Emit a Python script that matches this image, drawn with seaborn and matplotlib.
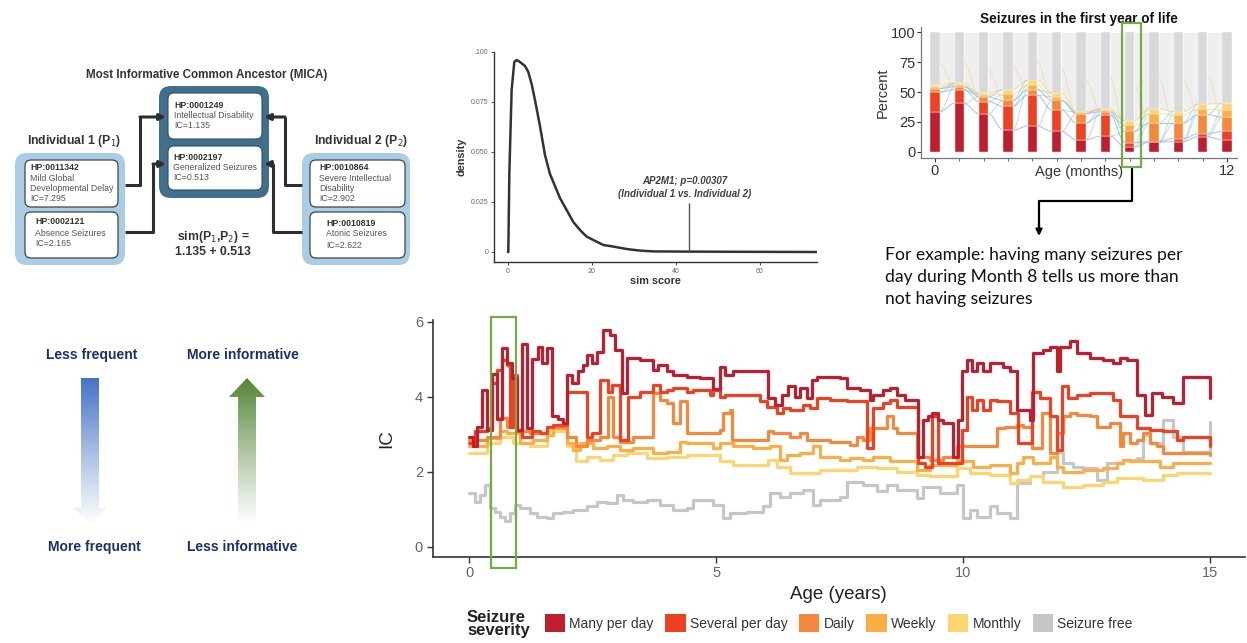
import numpy as np
import pandas as pd
import matplotlib
matplotlib.use("Agg")
import matplotlib.pyplot as plt
import seaborn as sns
from matplotlib.patches import FancyBboxPatch, Rectangle, Polygon, Patch

sns.set_theme(style="white")
plt.rcParams['font.family'] = ['Liberation Sans', 'DejaVu Sans']

# ---------------- data ----------------
severity = ["Many per day", "Several per day", "Daily", "Weekly", "Monthly", "Seizure free"]
sev_colors = ["#BE1E2D", "#EE4124", "#F4883C", "#F9AE48", "#FCD570", "#C6C6C6"]

# density of similarity scores
sim_x = [0.0, 0.08, 0.32, 0.87, 1.5, 2.06, 2.86, 4.05, 4.84, 5.63, 6.43, 7.62, 8.81, 10.0,
         11.19, 12.38, 13.97, 15.56, 17.14, 18.73, 20.32, 22.7, 25.1, 28.25, 31.4, 34.6,
         42.5, 55.0, 73.5]
sim_density = [0.0, 0.0, 0.039, 0.081, 0.095, 0.096, 0.095, 0.093, 0.090, 0.084, 0.076,
               0.063, 0.0485, 0.039, 0.033, 0.027, 0.021, 0.015, 0.011, 0.0077, 0.006,
               0.0035, 0.0027, 0.0015, 0.0007, 0.0003, 0.0002, 0.0001, 0.0]
obs_score = 43.2
obs_height = 0.0247

# first year of life: percent per month (stacked)
months = list(range(13))
pct_many = [33.5, 40.5, 32, 18, 21.5, 17, 10, 13, 4, 8, 8.5, 12.5, 10]
pct_several = [16.5, 11.5, 10, 20, 26, 18, 14, 18, 3.5, 0.5, 2.5, 2.5, 7]
pct_daily = [3, 2.5, 4, 5, 4.5, 8, 8, 2.5, 9.5, 15.5, 13, 16, 12]
pct_weekly = [1.5, 1.5, 1.5, 5, 4, 3, 1, 1.5, 5, 8, 7, 4.5, 6]
pct_monthly = [1.5, 1.5, 1.5, 4, 4, 3, 0.5, 1, 4, 4, 2.5, 4.5, 5.5]

# IC over age (step series)
age_many = [0, 0.08, 0.15, 0.25, 0.35, 0.452, 0.553, 0.655, 0.77, 0.857, 0.958, 1.06, 1.16, 1.26,
            1.397, 1.464, 1.565, 1.667, 1.8, 1.9, 1.97, 2.07, 2.206, 2.31, 2.375, 2.476, 2.578,
            2.713, 2.848, 2.949, 3.084, 3.185, 3.455, 3.725, 3.826, 3.995, 4.13, 4.4, 4.669,
            4.939, 5.074, 5.175, 5.344, 6.053, 6.188, 6.323, 6.457, 6.592, 6.694, 6.829, 6.93,
            7.031, 7.503, 7.638, 7.908, 8.111, 8.178, 8.381, 8.516, 8.65, 8.819, 9.089, 9.19,
            9.292, 9.359, 9.494, 9.595, 9.798, 9.899, 9.966, 10.07, 10.169, 10.27, 10.405, 10.54,
            10.81, 10.945, 11.08, 11.35, 11.417, 11.62, 11.755, 11.89, 11.957, 12.16, 12.294,
            12.565, 12.834, 13.036, 13.171, 13.306, 13.509, 13.678, 13.813, 14.015, 14.251,
            14.453, 15.0]
ic_many = [2.93, 2.67, 3.2, 4.18, 3.1, 4.6, 3.4, 5.3, 4.9, 4.5, 3.1, 5.4, 3.15, 5.0,
           5.33, 4.9, 5.3, 3.47, 3.4, 3.3, 4.58, 4.36, 4.67, 4.84, 5.1, 4.9, 5.2,
           5.78, 5.64, 5.24, 4.09, 5.02, 4.98, 4.7, 4.84, 4.67, 4.58, 4.53, 4.49,
           4.2, 4.8, 4.58, 4.67, 3.96, 3.78, 4.04, 4.27, 4.0, 4.22, 3.96, 4.44,
           4.53, 4.49, 4.22, 4.18, 3.9, 4.04, 4.18, 4.22, 4.04, 3.9, 2.4, 3.38,
           3.47, 3.56, 3.38, 3.29, 2.4, 3.38, 4.67, 4.98, 4.67, 4.89, 4.67, 4.89,
           4.8, 4.67, 3.64, 3.38, 5.16, 5.24, 5.33, 4.67, 5.33, 5.47, 5.16,
           5.02, 4.98, 4.89, 5.02, 4.98, 4.04, 3.51, 4.09, 4.0, 3.82,
           4.53, 3.96]

age_several = [0, 0.115, 0.35, 0.452, 0.553, 0.655, 0.756, 0.823, 0.89, 0.958, 1.06, 1.26, 1.43,
               1.565, 1.7, 1.97, 2.375, 2.476, 2.645, 2.814, 2.88, 3.05, 3.219, 3.455, 3.725,
               3.86, 3.995, 4.13, 4.4, 4.534, 4.872, 4.939, 5.074, 5.175, 5.884, 6.019, 6.221,
               6.356, 6.491, 6.761, 6.896, 7.031, 7.30, 7.638, 8.043, 8.178, 8.381, 8.516, 8.65,
               9.089, 9.224, 9.359, 9.494, 9.966, 10.07, 10.169, 10.27, 10.405, 10.54, 10.675,
               10.945, 11.113, 11.383, 11.552, 11.755, 11.89, 11.991, 12.126, 12.294, 12.565,
               13.036, 13.171, 13.509, 13.779, 14.049, 14.318, 14.453, 15.0]
ic_several = [2.76, 3.07, 3.16, 4.36, 4.71, 4.98, 4.84, 3.2, 4.58, 3.07, 2.93, 3.07, 3.02,
              3.2, 3.24, 4.13, 2.93, 3.02, 4.44, 4.13, 4.31, 2.84, 4.0, 4.13, 4.31,
              4.13, 4.18, 4.22, 4.13, 4.18, 4.04, 4.18, 4.0, 4.04, 3.87, 3.73, 3.56,
              3.69, 3.64, 3.78, 3.69, 3.96, 3.91, 3.87, 2.62, 3.69, 3.82, 3.91, 3.73,
              2.22, 2.13, 3.47, 2.22, 3.11, 4.0, 3.64, 3.91, 3.64, 3.91, 3.87,
              3.56, 2.76, 4.13, 3.96, 3.47, 2.58, 4.27, 3.96, 4.04, 4.09,
              3.91, 3.47, 3.16, 3.11, 3.07, 2.84, 2.93, 2.67]

age_daily = [0, 0.35, 0.62, 0.756, 0.958, 1.228, 1.565, 1.97, 2.17, 2.375, 2.645, 2.814, 2.915,
             3.05, 3.32, 3.725, 3.86, 3.995, 4.13, 4.264, 4.4, 5.074, 5.142, 5.277, 5.31, 6.053,
             6.154, 6.491, 6.694, 6.829, 7.30, 7.706, 7.841, 7.976, 8.111, 8.448, 8.583, 8.65,
             9.055, 9.325, 9.595, 9.865, 10.675, 10.843, 11.08, 11.215, 11.383, 11.586, 11.755,
             11.89, 12.024, 12.16, 12.294, 12.565, 12.7, 12.97, 13.171, 13.239, 13.374, 13.509,
             13.644, 13.779, 13.914, 14.049, 15.0]
ic_daily = [2.84, 2.93, 3.42, 3.2, 3.07, 3.02, 3.2, 2.93, 2.67, 2.84, 2.93, 4.0, 2.93,
            2.8, 2.93, 4.09, 3.91, 3.82, 3.29, 3.87, 3.02, 3.1, 3.56, 3.64, 2.84, 3.07,
            3.02, 2.93, 3.02, 2.84, 2.8, 2.71, 2.93, 2.84, 3.16, 3.47, 3.16, 3.02,
            2.4, 2.31, 2.4, 2.67, 3.16, 3.2, 3.24, 3.2, 2.62, 3.56, 2.49,
            3.02, 3.47, 3.56, 3.51, 3.47, 3.2, 3.29, 2.67, 3.02, 2.76, 2.84,
            3.02, 2.76, 2.67, 2.49, 2.45]

age_weekly = [0, 0.35, 0.62, 0.756, 1.026, 1.296, 1.565, 1.7, 1.97, 2.105, 2.24, 2.51, 2.78,
              3.05, 3.32, 3.725, 3.995, 4.264, 4.4, 4.939, 5.074, 5.344, 5.749, 6.086, 6.289,
              6.424, 6.694, 6.964, 7.098, 7.503, 7.706, 7.976, 8.178, 8.516, 9.055, 9.325,
              9.865, 10.0, 10.2, 10.54, 10.945, 11.08, 11.215, 11.417, 11.755, 11.89, 12.024,
              12.43, 12.834, 13.104, 13.239, 13.374, 13.98, 14.251, 15.0]
ic_weekly = [2.67, 2.89, 3.07, 3.02, 2.76, 2.84, 2.98, 3.16, 2.76, 2.58, 2.76, 2.62, 2.67,
             2.58, 2.62, 2.49, 2.53, 2.8, 2.76, 2.62, 2.76, 2.67, 2.62, 2.67, 2.31,
             2.44, 2.49, 2.67, 2.4, 2.31, 2.36, 2.31, 2.4, 2.27, 2.04, 2.18,
             2.31, 2.27, 2.13, 2.18, 1.96, 2.22, 2.4, 2.22, 2.4, 2.13, 2.0,
             2.04, 2.09, 2.22, 2.31, 2.27, 2.13, 2.22, 2.22]

age_monthly = [0, 0.35, 0.62, 0.89, 1.228, 1.565, 1.97, 2.17, 2.375, 2.645, 2.915, 3.185, 3.59,
               3.995, 4.4, 5.074, 5.344, 6.053, 6.221, 6.491, 7.098, 7.841, 8.246, 8.65, 9.055,
               9.325, 9.865, 10.135, 10.54, 10.945, 11.08, 11.35, 11.62, 12.024, 12.43, 12.834,
               13.104, 13.644, 14.049, 14.318, 15.0]
ic_monthly = [2.49, 2.76, 2.93, 2.76, 2.67, 3.07, 2.67, 2.27, 2.4, 2.31, 2.44, 2.49, 2.36,
              2.4, 2.44, 2.27, 2.18, 2.31, 2.13, 1.96, 2.04, 2.13, 2.09, 2.0, 1.91,
              1.87, 2.09, 1.96, 1.91, 1.69, 1.78, 1.87, 1.73, 1.6, 1.64, 1.73,
              1.82, 1.78, 1.91, 1.96, 1.96]

age_free = [0, 0.115, 0.216, 0.317, 0.418, 0.52, 0.62, 0.722, 0.823, 0.924, 1.026, 1.228, 1.363,
            1.565, 1.7, 1.9, 2.105, 2.375, 2.578, 2.78, 2.98, 3.117, 3.32, 3.59, 3.86, 4.13,
            4.4, 4.534, 4.939, 5.142, 5.277, 5.614, 5.951, 6.086, 6.289, 6.491, 6.761, 6.964,
            7.098, 7.503, 7.638, 7.976, 8.246, 8.448, 8.65, 9.055, 9.19, 9.528, 9.865, 10.0,
            10.135, 10.27, 10.54, 10.675, 10.945, 11.08, 11.35, 11.62, 11.89, 12.024, 12.227,
            12.43, 12.7, 12.9, 13.239, 13.509, 13.644, 13.779, 14.049, 14.251, 14.453, 15.0]
ic_free = [1.42, 1.2, 1.38, 1.64, 1.02, 0.93, 0.8, 0.67, 0.89, 1.11, 1.02, 0.89, 0.8,
           0.76, 0.89, 0.93, 0.98, 1.07, 1.2, 1.16, 1.38, 1.24, 1.2, 1.24, 1.11, 0.98,
           1.02, 1.24, 1.11, 0.76, 0.89, 0.93, 1.07, 1.42, 1.33, 1.42, 1.51, 1.11,
           1.24, 1.33, 1.73, 1.64, 1.47, 1.64, 1.51, 1.29, 1.6, 1.42, 1.64, 0.76,
           0.98, 0.8, 1.07, 0.89, 0.76, 1.69, 1.87, 2.0, 2.53, 2.22, 2.13,
           2.09, 1.78, 2.22, 2.31, 2.36, 2.98, 2.76, 3.38, 2.93, 2.53, 3.33]

# ---------------- figure ----------------
W, H = 1247, 643
fig = plt.figure(figsize=(W / 100, H / 100), dpi=100)
bg = fig.add_axes([0, 0, 1, 1])
bg.set_xlim(0, W)
bg.set_ylim(H, 0)
bg.axis('off')


def px_axes(l, t, r, b):
    a = fig.add_axes([l / W, 1 - b / H, (r - l) / W, (b - t) / H])
    a.set_facecolor('none')
    return a


def rbox(x0, y0, x1, y1, fc, ec='none', lw=0, r=8, z=1):
    p = FancyBboxPatch((x0, y0), x1 - x0, y1 - y0,
                       boxstyle=f"round,pad=0,rounding_size={r}",
                       fc=fc, ec=ec, lw=lw, zorder=z)
    bg.add_patch(p)


# ---- MICA diagram ----
dark_blue = "#41708F"
light_blue = "#A9CDE4"
rbox(159, 86, 269, 198, dark_blue, r=12)
rbox(168, 93, 262, 139, 'white', ec='#2F4F66', lw=0.8, r=6, z=2)
rbox(168, 146, 262, 190, 'white', ec='#2F4F66', lw=0.8, r=6, z=2)
rbox(15, 153, 125, 265, light_blue, r=12)
rbox(25, 160, 118, 207, 'white', ec='#444444', lw=0.9, r=6, z=2)
rbox(25, 212, 118, 258, 'white', ec='#444444', lw=0.9, r=6, z=2)
rbox(302, 153, 410, 265, light_blue, r=12)
rbox(310, 160, 405, 207, 'white', ec='#444444', lw=0.9, r=6, z=2)
rbox(310, 212, 405, 258, 'white', ec='#444444', lw=0.9, r=6, z=2)

fs = 6.3
bg.text(207, 75, "Most Informative Common Ancestor (MICA)", ha='center', va='center',
        fontsize=8.4, fontweight='bold', color='#333333')
bg.text(74, 141, r"Individual 1 (P$_1$)", ha='center', va='center', fontsize=8.8,
        fontweight='bold', color='#333333')
bg.text(361, 141, r"Individual 2 (P$_2$)", ha='center', va='center', fontsize=8.8,
        fontweight='bold', color='#333333')


def box_text(x, y, lines, dy=10.3):
    bg.text(x, y, lines[0], fontsize=fs, fontweight='bold', color='#333333', va='center', zorder=3)
    for i, s in enumerate(lines[1:]):
        bg.text(x, y + dy * (i + 1), s, fontsize=fs, color='#555555', va='center', zorder=3)


box_text(174, 105, ["HP:0001249", "Intellectual Disability", "IC=1.135"])
box_text(173, 157, ["HP:0002197", "Generalized Seizures", "IC=0.513"])
box_text(30, 168, ["HP:0011342", "Mild Global", "Developmental Delay", "IC=7.295"])
box_text(35, 222, ["HP:0002121", "Absence Seizures", "IC=2.165"], dy=11)
box_text(319, 168, ["HP:0010864", "Severe Intellectual", "Disability", "IC=2.902"])
box_text(326, 223, ["HP:0010819", "Atonic Seizures", "IC=2.622"], dy=11)

bg.text(213, 237, r"sim(P$_1$,P$_2$) =", ha='center', va='center', fontsize=8.8,
        fontweight='bold', color='#333333')
bg.text(213, 252, "1.135 + 0.513", ha='center', va='center', fontsize=8.8,
        fontweight='bold', color='#333333')

lc = '#2E2E2E'
for pts in ([(125, 185), (140, 185), (140, 117)], [(125, 232), (153, 232), (153, 164)],
            [(302, 185), (285, 185), (285, 117)], [(302, 232), (273, 232), (273, 164)]):
    xs, ys = zip(*pts)
    bg.plot(xs, ys, color=lc, lw=2.2, solid_capstyle='butt', solid_joinstyle='round', zorder=3)
    end_x = 166 if pts[0][0] < 200 else 264
    bg.annotate('', xy=(end_x, pts[-1][1]), xytext=(pts[-1][0], pts[-1][1]),
                arrowprops=dict(arrowstyle='-|>', lw=2.2, color=lc, mutation_scale=9,
                                shrinkA=0, shrinkB=0), zorder=3)

# ---- gradient arrows ----
navy = "#1C2F6E"
bg.text(92, 355, "Less frequent", ha='center', va='center', fontsize=10, fontweight='bold', color=navy)
bg.text(243, 355, "More informative", ha='center', va='center', fontsize=10, fontweight='bold', color=navy)
bg.text(94, 547, "More frequent", ha='center', va='center', fontsize=10, fontweight='bold', color=navy)
bg.text(242, 547, "Less informative", ha='center', va='center', fontsize=10, fontweight='bold', color=navy)


def grad_arrow(poly, rgb, y_strong, y_weak):
    p = Polygon(poly, closed=True, fc='none', ec='none')
    bg.add_patch(p)
    n = 256
    arr = np.zeros((n, 1, 4))
    arr[:, 0, :3] = rgb
    arr[:, 0, 3] = np.linspace(1.0, 0.03, n) ** 1.1
    xs = [q[0] for q in poly]
    im = bg.imshow(arr, extent=[min(xs), max(xs), y_weak, y_strong], origin='upper',
                   aspect='auto', interpolation='bilinear', zorder=2)
    im.set_clip_path(p)


grad_arrow([(81, 378), (99, 378), (99, 508), (107, 508), (90, 523), (73, 508), (81, 508)],
           (0.27, 0.45, 0.78), 378, 523)
grad_arrow([(247, 378), (265, 397), (256, 397), (256, 521), (238, 521), (238, 397), (229, 397)],
           (0.33, 0.52, 0.22), 378, 521)
bg.set_xlim(0, W)
bg.set_ylim(H, 0)

# ---- density panel ----
axd = px_axes(494, 52, 817, 262)
sns.lineplot(x=sim_x, y=sim_density, ax=axd, color='#333333', lw=1.8, estimator=None, sort=False)
axd.vlines(obs_score, 0, obs_height, color='#555555', lw=1.0)
axd.text(obs_score - 1.1, 0.0355, "AP2M1; p=0.00307", ha='center', va='center', fontsize=7,
         fontweight='bold', fontstyle='italic', color='#404040')
axd.text(obs_score - 1.1, 0.0292, "(Individual 1 vs. Individual 2)", ha='center', va='center',
         fontsize=7, fontweight='bold', fontstyle='italic', color='#404040')
axd.set_xlim(-3.33, 73.6)
axd.set_ylim(-0.005, 0.1)
axd.set_xticks([0, 20, 40, 60])
axd.set_yticks([0, 0.025, 0.05, 0.075, 0.1])
axd.set_yticklabels(['0', '0.025', '0.050', '0.075', '.100'])
axd.tick_params(labelsize=5, colors='#666666', length=2.5, width=0.6, pad=1.5, left=True, bottom=True)
axd.tick_params(axis='both', color='#333333')
for s in ['top', 'right']:
    axd.spines[s].set_visible(False)
for s in ['left', 'bottom']:
    axd.spines[s].set_color('#333333')
    axd.spines[s].set_linewidth(1.0)
axd.set_xlabel("sim score", fontsize=7.8, fontweight='bold', color='#333333', labelpad=1)
axd.set_ylabel("density", fontsize=7.8, fontweight='bold', color='#333333', labelpad=3)

# ---- alluvial panel ----
axa = px_axes(921, 27, 1237, 158)
stack = np.vstack([pct_many, pct_several, pct_daily, pct_weekly, pct_monthly])
cum = np.cumsum(stack, axis=0)
free = 100 - cum[-1]
bw = 0.38
t = np.linspace(0, 1, 40)
sm = 0.5 - 0.5 * np.cos(np.pi * t)
for i in range(len(months) - 1):
    xs = months[i] + bw / 2 + (1 - bw) * t
    ytop = cum[-1, i] + (cum[-1, i + 1] - cum[-1, i]) * sm
    axa.fill_between(xs, ytop, 100, color='#EFEFEF', lw=0, zorder=1)
    for k in range(5):
        y0, y1 = cum[k, i], cum[k, i + 1]
        col = '#6FA8DC' if k < 3 else '#F3D27A'
        axa.plot(xs, y0 + (y1 - y0) * sm, color=col, lw=0.8, alpha=0.6, zorder=2)
    for k in range(3):
        y0, y1 = cum[k, i], cum[min(k + 2, 4), i + 1]
        axa.plot(xs, y0 + (y1 - y0) * sm, color='#6FA8DC', lw=0.7, alpha=0.45, zorder=2)
    y0, y1 = cum[-1, i] + free[i] * 0.4, cum[2, i + 1]
    axa.plot(xs, y0 + (y1 - y0) * sm, color='#F3D27A', lw=0.7, alpha=0.5, zorder=2)

bottoms = np.zeros(len(months))
for vals, col in zip(list(stack) + [free], sev_colors[:5] + ['#D9D9D9']):
    axa.bar(months, vals, bottom=bottoms, width=bw, color=col, edgecolor='white', lw=0.3, zorder=3)
    bottoms = bottoms + vals
axa.set_xlim(-0.575, 12.41)
axa.set_ylim(-5.3, 104.6)
axa.set_yticks([0, 25, 50, 75, 100])
axa.set_xticks([0, 12])
axa.set_xticks(months, minor=True)
axa.tick_params(axis='both', labelsize=10.5, colors='#333333', length=3, width=0.8, pad=1, left=True, bottom=True)
axa.tick_params(axis='x', which='minor', length=2, width=0.6, color='#555555', bottom=True)
for s in ['top', 'right']:
    axa.spines[s].set_visible(False)
for s in ['left', 'bottom']:
    axa.spines[s].set_color('#777777')
    axa.spines[s].set_linewidth(0.9)
axa.set_xlabel("Age (months)", fontsize=10.5, color='#333333', labelpad=-9)
axa.set_ylabel("Percent", fontsize=10.5, color='#333333', labelpad=1)
axa.set_title("Seizures in the first year of life", fontsize=9.8, fontweight='bold', color='#111111', pad=3)
green = "#70AD47"
axa.add_patch(Rectangle((7.69, -12.9), 0.78, 121, fill=False, ec=green, lw=1.6, clip_on=False, zorder=5))

# connector
bg.plot([1132, 1132, 1039, 1039], [167, 201, 201, 226], color='black', lw=1.6, zorder=3)
bg.annotate('', xy=(1039, 236), xytext=(1039, 224),
            arrowprops=dict(arrowstyle='-|>', lw=1.6, color='black', mutation_scale=9,
                            shrinkA=0, shrinkB=0))
for yb, s in zip([260, 282, 304], ["For example: having many seizures per",
                                   "day during Month 8 tells us more than",
                                   "not having seizures"]):
    bg.text(885, yb, s, fontsize=12.6, family=['Lato', 'DejaVu Sans'], color='#111111', va='baseline')

# ---- main IC panel ----
axm = px_axes(432.7, 320, 1245, 556.7)
series = [("Seizure free", age_free, ic_free), ("Monthly", age_monthly, ic_monthly),
          ("Weekly", age_weekly, ic_weekly), ("Daily", age_daily, ic_daily),
          ("Several per day", age_several, ic_several), ("Many per day", age_many, ic_many)]
df = pd.concat([pd.DataFrame({"age": a, "ic": v, "severity": n}) for n, a, v in series],
               ignore_index=True)
palette = dict(zip(severity, sev_colors))
sns.lineplot(data=df, x="age", y="ic", hue="severity", hue_order=[s[0] for s in series],
             palette=palette, estimator=None, sort=False, drawstyle='steps-post', lw=2.3,
             legend=False, ax=axm)
axm.set_xlim(-0.74, 15.7)
axm.set_ylim(-0.27, 6.04)
axm.set_xticks([0, 5, 10, 15])
axm.set_yticks([0, 2, 4, 6])
axm.tick_params(labelsize=10.5, labelcolor='#666666', color='#333333', length=4, width=1,
                left=True, bottom=True, pad=3)
for s in ['top', 'right']:
    axm.spines[s].set_visible(False)
for s in ['left', 'bottom']:
    axm.spines[s].set_color('#333333')
    axm.spines[s].set_linewidth(1.2)
axm.set_xlabel("Age (years)", fontsize=13.5, color='#222222', labelpad=4)
axm.set_ylabel("IC", fontsize=13.5, color='#222222', labelpad=14)
axm.add_patch(Rectangle((0.45, -0.56), 0.49, 6.69, fill=False, ec=green, lw=1.6, clip_on=False, zorder=5))

# legend
bg.text(467, 617, "Seizure", fontsize=12, fontweight='bold', color='#222222', va='center', ha='left')
bg.text(467, 631, "severity", fontsize=12, fontweight='bold', color='#222222', va='center', ha='left')
handles = [Patch(facecolor=c, edgecolor='none') for c in sev_colors]
fig.legend(handles, severity, loc='center left', bbox_to_anchor=(545 / W, 1 - 623 / H),
           ncol=6, frameon=False, fontsize=10, handlelength=1.45, handleheight=1.6,
           handletextpad=0.3, columnspacing=0.85, borderaxespad=0, borderpad=0,
           labelcolor='#333333')

fig.savefig("out.png", dpi=100)
